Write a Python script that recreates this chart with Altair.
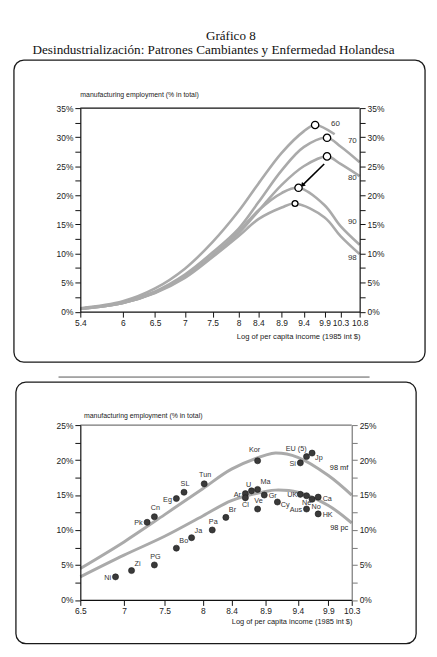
import altair as alt
import pandas as pd

# ---------------- top panel data ----------------
SERIES = ["60", "70", "80", "90", "98"]
X_60 = [5.4, 6, 6.5, 7, 7.5, 8, 8.4, 8.9, 9.4, 9.67, 10.15]
Y_60 = [0.6, 1.8, 4.0, 7.4, 12.0, 17.3, 22.0, 27.3, 31.0, 32.1, 30.5]
X_70 = [5.4, 6, 6.5, 7, 7.5, 8, 8.4, 8.9, 9.4, 9.96, 10.3, 10.8]
Y_70 = [0.5, 1.6, 3.5, 6.4, 10.2, 14.3, 18.8, 24.3, 28.3, 29.9, 28.4, 25.7]
X_80 = [5.4, 6, 6.5, 7, 7.5, 8, 8.4, 8.9, 9.4, 9.96, 10.3, 10.8]
Y_80 = [0.5, 1.5, 3.3, 6.0, 9.6, 13.5, 17.3, 21.8, 25.0, 26.7, 25.4, 23.3]
X_90 = [5.4, 6, 6.5, 7, 7.5, 8, 8.4, 8.9, 9.28, 9.9, 10.3, 10.8]
Y_90 = [0.5, 1.5, 3.3, 6.0, 9.7, 13.8, 17.4, 20.4, 21.3, 18.3, 14.7, 11.5]
X_98 = [5.4, 6, 6.5, 7, 7.5, 8, 8.4, 8.9, 9.2, 9.9, 10.3, 10.8]
Y_98 = [0.5, 1.5, 3.2, 5.8, 9.4, 13.0, 15.9, 17.9, 18.6, 16.2, 13.0, 9.9]
PEAK_X = [9.67, 9.96, 9.96, 9.28, 9.2]
PEAK_Y = [32.1, 29.9, 26.7, 21.3, 18.6]
SLABEL_X = [10.06, 10.49, 10.49, 10.49, 10.49]
SLABEL_Y = [32.3, 29.4, 22.9, 15.5, 9.25]
ARROW_FROM = [9.89, 25.4]
ARROW_TO = [9.38, 21.8]
TOP_XTICKS = [5.4, 6, 6.5, 7, 7.5, 8, 8.4, 8.9, 9.4, 9.9, 10.3, 10.8]
TOP_YTICKS = [0, 2.5, 5, 7.5, 10, 12.5, 15, 17.5, 20, 22.5, 25, 27.5, 30, 32.5, 35]

# ---------------- bottom panel data ----------------
COUNTRIES = ["Ni", "Zi", "PG", "Pk", "Cn", "Eg", "SL", "Tun", "Bo", "Ja", "Pa", "Br",
             "Ar", "Cl", "U", "Ma", "Kor", "Ve", "Gr", "Cy", "Si", "EU (5)", "Jp",
             "UK", "Ne", "No", "Ca", "Aus", "HK"]
C_X = [6.90, 7.09, 7.37, 7.28, 7.37, 7.65, 7.75, 8.02, 7.65, 7.85, 8.13, 8.32,
       8.60, 8.60, 8.69, 8.78, 8.78, 8.78, 8.88, 9.08, 9.44, 9.54, 9.63,
       9.44, 9.54, 9.63, 9.73, 9.54, 9.73]
C_Y = [3.3, 4.2, 5.0, 11.1, 11.9, 14.5, 15.4, 16.6, 7.4, 8.9, 10.0, 11.8,
       15.2, 14.6, 15.6, 15.8, 19.9, 13.0, 15.0, 14.0, 19.6, 20.5, 21.0,
       15.1, 14.9, 14.4, 14.7, 13.0, 12.3]
CURVES = ["98 mf", "98 pc"]
CURVE_X = [6.5, 7, 7.5, 8, 8.4, 8.9, 9.05, 9.4, 9.9, 10.3]
MF_Y = [4.5, 8.3, 12.2, 15.9, 18.7, 20.7, 21.0, 20.4, 17.8, 15.0]
PC_Y = [3.3, 6.4, 9.1, 12.0, 14.2, 15.5, 15.7, 15.4, 13.5, 11.0]
CLABEL_X = [10.24, 10.24]
CLABEL_Y = [18.8, 10.3]
BOT_XTICKS = [6.5, 7, 7.5, 8, 8.4, 8.9, 9.4, 9.9, 10.3]
BOT_YTICKS = [0, 2.5, 5, 7.5, 10, 12.5, 15, 17.5, 20, 22.5, 25]

# label placement (style): name -> placement key
PLACE_OF = {"Ni": "left", "Pk": "left", "Eg": "left", "Ar": "left", "Si": "left",
            "Aus": "left", "UK": "uk",
            "PG": "above", "Cn": "above", "SL": "above", "Tun": "above", "Pa": "above",
            "Ve": "above", "Kor": "kor", "U": "uleft", "EU (5)": "eu",
            "Zi": "upright", "Bo": "upright", "Ja": "upright", "Br": "upright", "Ma": "upright",
            "Gr": "right", "Cy": "cy", "Ca": "right", "HK": "right", "Jp": "jp",
            "Cl": "below", "Ne": "below", "No": "no"}
PLACES = {"left": (-4.5, 1, "right"), "uk": (-3, 0.5, "right"),
          "above": (1, -8.5, "center"), "kor": (-3, -11, "center"),
          "uleft": (-3, -6, "center"), "eu": (-10.5, -7.7, "center"),
          "upright": (3, -7, "left"), "right": (4.5, 1.5, "left"),
          "cy": (3.5, 3.5, "left"),
          "jp": (3, 5, "left"), "below": (0, 7, "center"), "no": (4, 7.4, "center")}

FONT = "Liberation Sans"
SERIF = "Liberation Serif"
GRAY = "#aaaaaa"
ONE = pd.DataFrame({"k": [0]})


def pix_rect(x1, x2, y1, y2, **kw):
    return alt.Chart(ONE).mark_rect(**kw).encode(
        x=alt.value(x1), x2=alt.value(x2), y=alt.value(y1), y2=alt.value(y2))


def pix_rule(x1, x2, y1, y2, **kw):
    return alt.Chart(ONE).mark_rule(**kw).encode(
        x=alt.value(x1), x2=alt.value(x2), y=alt.value(y1), y2=alt.value(y2))


def pix_text(txt, x, y, **kw):
    return alt.Chart(ONE).mark_text(text=txt, **kw).encode(x=alt.value(x), y=alt.value(y))


def x_enc(domain, ticks):
    return alt.X("x:Q", scale=alt.Scale(type="log", domain=domain, nice=False),
                 axis=alt.Axis(values=ticks, title=None, format=".1~f", grid=False,
                               tickSize=5.5, tickColor="#111", domainColor="#111",
                               domainWidth=1.2, labelFont=FONT, labelFontSize=8.5,
                               labelColor="#222", labelFlush=False, labelOverlap=False,
                               labelPadding=1, zindex=2))


def y_enc(domain, ticks, orient=None, dcolor="#111"):
    sc = alt.Scale(domain=domain, nice=False, zero=False)
    if orient is None:
        return alt.Y("y:Q", scale=sc, axis=None)
    return alt.Y("y:Q", scale=sc,
                 axis=alt.Axis(orient=orient, values=ticks, title=None, grid=False,
                               labelExpr="datum.value % 5 == 0 ? datum.value + '%' : ''",
                               tickSize=5.5, tickColor=dcolor, domainColor=dcolor,
                               domainWidth=1.2, labelFont=FONT, labelFontSize=8.5,
                               labelColor="#222", labelPadding=2, labelFlush=False,
                               zindex=2))


# ================= top panel =================
W1, H1 = 282, 205.5
rows = []
for s, xs, ys in zip(SERIES, [X_60, X_70, X_80, X_90, X_98], [Y_60, Y_70, Y_80, Y_90, Y_98]):
    for xv, yv in zip(xs, ys):
        rows.append({"s": s, "x": xv, "y": yv})
top_df = pd.DataFrame(rows)
peak_df = pd.DataFrame({"s": SERIES, "x": PEAK_X, "y": PEAK_Y,
                        "big": ["a", "a", "a", "a", "b"]})
slab_df = pd.DataFrame({"s": SERIES, "x": SLABEL_X, "y": SLABEL_Y})
arrow_df = pd.DataFrame({"x": [ARROW_FROM[0]], "y": [ARROW_FROM[1]],
                         "x2": [ARROW_TO[0]], "y2": [ARROW_TO[1]]})
head_df = pd.DataFrame({"x": [ARROW_TO[0]], "y": [ARROW_TO[1]]})

XT = x_enc([5.4, 10.8], TOP_XTICKS)
YT_L = y_enc([0, 35], TOP_YTICKS, "left")
YT_R = y_enc([0, 35], TOP_YTICKS, "right")
YT_N = y_enc([0, 35], TOP_YTICKS)

top = alt.layer(
    pix_rect(-72, 349, -97.5, 273.5, color="white"),
    pix_rect(-67, 348, -48.5, 256.5, fillOpacity=0, stroke="#1a1a1a",
             strokeWidth=1.3, cornerRadius=10),
    pix_text("Gráfico 8", 152, -72.5, font=SERIF, fontSize=13.2, align="center",
             baseline="middle", color="#111"),
    pix_text("Desindustrialización: Patrones Cambiantes y Enfermedad Holandesa",
             134.5, -58.5, font=SERIF, fontSize=13.3, align="center",
             baseline="middle", color="#111"),
    pix_text("manufacturing employment (% in total)", 0, -12.8, font=FONT,
             fontSize=7, align="left", baseline="middle", color="#222"),
    pix_text("Log of per capita income (1985 int $)", 283, 231.5, font=FONT,
             fontSize=7.7, align="right", baseline="middle", color="#222"),
    pix_rule(0, W1, 0, 0, color="#111", strokeWidth=1.2),
    pix_rule(-22, 292, 271.5, 271.5, color="#555", strokeWidth=1),
    alt.Chart(top_df).mark_line(interpolate="catmull-rom", color=GRAY, strokeWidth=2.6)
    .encode(x=XT, y=YT_L, detail="s:N"),
    alt.Chart(arrow_df).mark_rule(color="black", strokeWidth=1.6)
    .encode(x=XT, y=YT_N, x2="x2:Q", y2="y2:Q"),
    alt.Chart(head_df).mark_point(shape="triangle", filled=True, color="black",
                                  size=28, angle=224, opacity=1)
    .encode(x=XT, y=YT_N),
    alt.Chart(peak_df).mark_point(shape="circle", filled=True, fill="white",
                                  stroke="black", strokeWidth=1.3, opacity=1)
    .encode(x=XT, y=YT_R,
            size=alt.Size("big:N", scale=alt.Scale(domain=["a", "b"], range=[55, 35]),
                          legend=None)),
    alt.Chart(slab_df).mark_text(align="left", baseline="middle", font=FONT,
                                 fontSize=8, color="#333")
    .encode(x=XT, y=YT_N, text="s:N"),
).resolve_scale(y="independent").properties(width=W1, height=H1)

# ================= bottom panel =================
W2, H2 = 274, 176.5
pts_df = pd.DataFrame({"name": COUNTRIES, "x": C_X, "y": C_Y})
crows = []
for c, ys in zip(CURVES, [MF_Y, PC_Y]):
    for xv, yv in zip(CURVE_X, ys):
        crows.append({"s": c, "x": xv, "y": yv})
curve_df = pd.DataFrame(crows)
clab_df = pd.DataFrame({"s": CURVES, "x": CLABEL_X, "y": CLABEL_Y})

XB = x_enc([6.5, 10.3], BOT_XTICKS)
YB_L = y_enc([0, 25], BOT_YTICKS, "left")
YB_R = y_enc([0, 25], BOT_YTICKS, "right", dcolor="#777")
YB_N = y_enc([0, 25], BOT_YTICKS)

label_layers = []
for key, (dx, dy, al) in PLACES.items():
    names = [n for n in COUNTRIES if PLACE_OF[n] == key]
    sub = pts_df[pts_df["name"].isin(names)]
    label_layers.append(
        alt.Chart(sub).mark_text(align=al, baseline="middle", dx=dx, dy=dy, font=FONT,
                                 fontSize=7.3, color="#333")
        .encode(x=XB, y=YB_N, text="name:N"))

bottom = alt.layer(
    pix_rect(-70, 351, -45.3, 224.7, color="white"),
    pix_rect(-65, 339, -43.3, 220.7, fillOpacity=0, stroke="#1a1a1a",
             strokeWidth=1.3, cornerRadius=10),
    pix_text("manufacturing employment (% in total)", 3.7, -9.6, font=FONT,
             fontSize=7, align="left", baseline="middle", color="#222"),
    pix_text("Log of per capita income (1985 int $)", 274.7, 199, font=FONT,
             fontSize=7.5, align="right", baseline="middle", color="#222"),
    pix_rule(0, W2, 0, 0, color="#777", strokeWidth=1.2),
    alt.Chart(curve_df).mark_line(interpolate="catmull-rom", color=GRAY, strokeWidth=3)
    .encode(x=XB, y=YB_L, detail="s:N"),
    alt.Chart(pts_df).mark_circle(size=38, color="#3a3a3a", opacity=1,
                                  stroke="#1a1a1a", strokeWidth=0.6)
    .encode(x=XB, y=YB_R),
    alt.Chart(clab_df).mark_text(align="right", baseline="middle", font=FONT,
                                 fontSize=7.5, color="#222")
    .encode(x=XB, y=YB_N, text="s:N"),
    *label_layers,
).resolve_scale(y="independent").properties(width=W2, height=H2)

chart = alt.vconcat(top, bottom, spacing=0).properties(
    padding=0, background="white"
).configure_view(stroke="transparent")

chart.save("out.html", embed_options={"renderer": "svg", "actions": False})
